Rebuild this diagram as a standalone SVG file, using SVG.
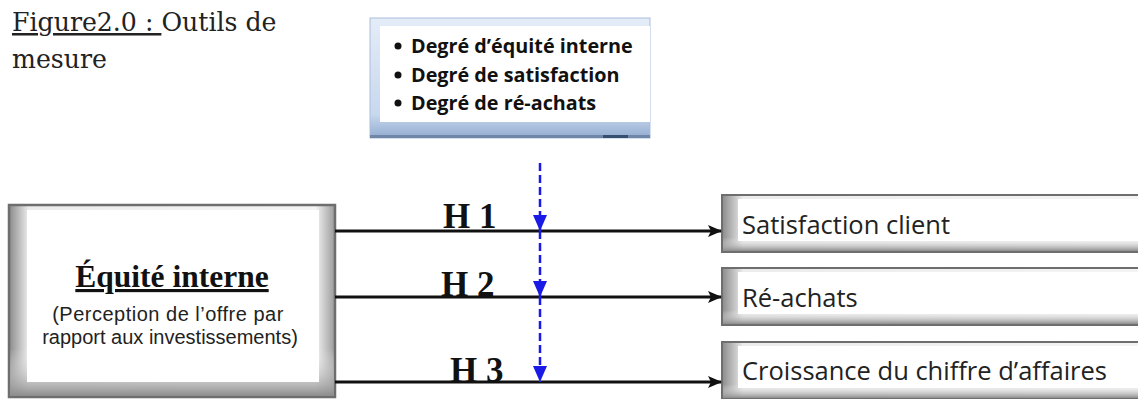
<svg xmlns="http://www.w3.org/2000/svg" width="1138" height="399" viewBox="0 0 1138 399">
<defs>
<style>
.title{font-family:"DejaVu Serif","Liberation Serif",serif;font-size:25.2px;fill:#222}
.bul{font-family:"Open Sans","Liberation Sans",sans-serif;font-weight:bold;font-size:19.8px;fill:#111}
.h{font-family:"Liberation Serif",serif;font-weight:bold;font-size:35px;fill:#111}
.rt{font-family:"Open Sans","Liberation Sans",sans-serif;font-size:25.5px;fill:#222}
.st{font-family:"Liberation Sans",sans-serif;font-size:20px;fill:#222}
.conn{stroke:#111;stroke-width:3;fill:none}
.dash{stroke:#1a1ae6;stroke-width:2.5;stroke-dasharray:8 4;fill:none}
</style>
<marker id="ah" markerWidth="14" markerHeight="12" refX="13" refY="6" orient="auto" markerUnits="userSpaceOnUse" viewBox="0 0 14 12">
<path d="M0,0 L14,6 L0,12 L3,6 Z" fill="#111"/>
</marker>
<marker id="bh" markerWidth="16" markerHeight="14" refX="16" refY="7" orient="auto" markerUnits="userSpaceOnUse" viewBox="0 0 16 14">
<path d="M0,0 L16,7 L0,14 Z" fill="#1a1ae6"/>
</marker>
<linearGradient id="gL" x1="0" y1="0" x2="1" y2="0">
<stop offset="0" stop-color="#8a8a8a"/><stop offset="0.06" stop-color="#ececec"/><stop offset="0.94" stop-color="#f4f4f4"/><stop offset="1" stop-color="#9a9a9a"/>
</linearGradient>
<linearGradient id="gR" x1="0" y1="0" x2="1" y2="0">
<stop offset="0" stop-color="#8a8a8a"/><stop offset="0.05" stop-color="#ececec"/><stop offset="1" stop-color="#f4f4f4"/>
</linearGradient>
<linearGradient id="gV" x1="0" y1="0" x2="0" y2="1">
<stop offset="0" stop-color="#ffffff" stop-opacity="0"/><stop offset="0.75" stop-color="#ffffff" stop-opacity="0"/><stop offset="1" stop-color="#8c8c8c"/>
</linearGradient>
<linearGradient id="gB" x1="0" y1="0" x2="0" y2="1">
<stop offset="0" stop-color="#e4ecf7"/><stop offset="0.8" stop-color="#c8d8ee"/><stop offset="1" stop-color="#93acd0"/>
</linearGradient>
</defs>
<rect width="1138" height="399" fill="#ffffff"/>

<g id="title">
<text class="title" x="12" y="31"><tspan text-decoration="underline">Figure2.0 : </tspan>Outils de</text>
<text class="title" x="12" y="68">mesure</text>
</g>

<g id="measures">
<rect x="370" y="18" width="280" height="120" fill="url(#gB)" stroke="#a9bede" stroke-width="1"/>
<rect x="380" y="26" width="270" height="96" fill="#ffffff"/>
<rect x="370" y="135" width="280" height="3" fill="#6f86a6"/>
<rect x="603" y="135" width="25" height="3" fill="#34506e"/>
<circle cx="398" cy="46" r="3.5" fill="#111"/>
<circle cx="398" cy="75" r="3.5" fill="#111"/>
<circle cx="398" cy="103" r="3.5" fill="#111"/>
<text class="bul" x="411" y="53">Degré d’équité interne</text>
<text class="bul" x="411" y="82">Degré de satisfaction</text>
<text class="bul" x="411" y="110">Degré de ré-achats</text>
</g>

<g id="equite">
<rect x="9" y="205" width="326" height="192" fill="url(#gL)" stroke="#6e6e6e" stroke-width="2.5"/>
<rect x="10" y="206" width="324" height="190" fill="url(#gV)"/>
<rect x="27" y="210" width="292" height="172" fill="#ffffff"/>
<text x="172" y="287" text-anchor="middle" font-family="'Liberation Serif',serif" font-weight="bold" font-size="31.5" fill="#111" text-decoration="underline">Équité interne</text>
<text class="st" x="168" y="321" text-anchor="middle" letter-spacing="0.5">(Perception de l’offre par</text>
<text class="st" x="170" y="344" text-anchor="middle">rapport aux investissements)</text>
</g>

<g id="satisfaction">
<rect x="722" y="195" width="420" height="57" fill="url(#gR)" stroke="#6e6e6e" stroke-width="2"/>
<rect x="723" y="196" width="418" height="55" fill="url(#gV)"/>
<rect x="738" y="199" width="400" height="42" fill="#ffffff"/>
<text class="rt" x="742" y="234">Satisfaction client</text>
</g>

<g id="reachats">
<rect x="722" y="268" width="420" height="57" fill="url(#gR)" stroke="#6e6e6e" stroke-width="2"/>
<rect x="723" y="269" width="418" height="55" fill="url(#gV)"/>
<rect x="738" y="272" width="400" height="42" fill="#ffffff"/>
<text class="rt" x="742" y="307">Ré-achats</text>
</g>

<g id="croissance">
<rect x="722" y="342" width="420" height="57" fill="url(#gR)" stroke="#6e6e6e" stroke-width="2"/>
<rect x="723" y="343" width="418" height="55" fill="url(#gV)"/>
<rect x="738" y="346" width="400" height="42" fill="#ffffff"/>
<text class="rt" x="742" y="380">Croissance du chiffre d’affaires</text>
</g>

<g id="connectors">
<line class="conn" x1="335" y1="231" x2="721" y2="231" marker-end="url(#ah)"/>
<line class="conn" x1="335" y1="297" x2="721" y2="297" marker-end="url(#ah)"/>
<line class="conn" x1="335" y1="382" x2="721" y2="382" marker-end="url(#ah)"/>
<line class="dash" x1="540" y1="163" x2="540" y2="231" marker-end="url(#bh)"/>
<line class="dash" x1="540" y1="231" x2="540" y2="297" marker-end="url(#bh)"/>
<line class="dash" x1="540" y1="297" x2="540" y2="382" marker-end="url(#bh)"/>
<text class="h" x="443" y="228">H 1</text>
<text class="h" x="441" y="296">H 2</text>
<text class="h" x="450" y="382">H 3</text>
</g>
</svg>
